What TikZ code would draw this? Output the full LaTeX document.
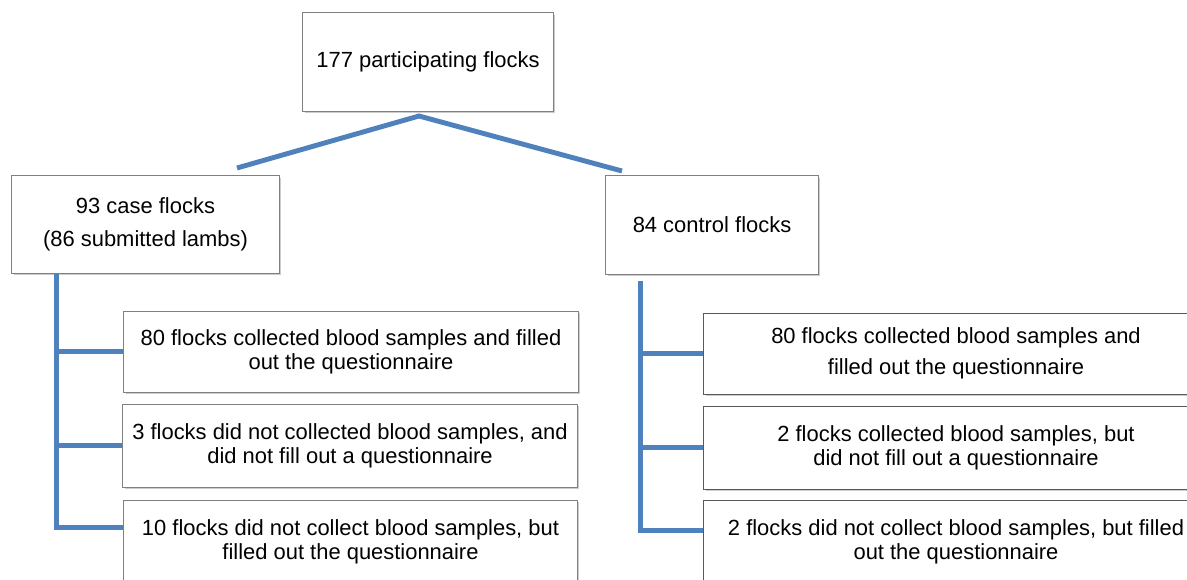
\documentclass[tikz,border=0pt]{standalone}
\usepackage{fontspec}
\setmainfont{Liberation Sans}
\usetikzlibrary{calc, shadows}
\definecolor{linkblue}{RGB}{79,129,189}
\definecolor{boxgray}{RGB}{128,128,128}
\tikzset{
  box/.style={draw=boxgray, line width=0.7pt, fill=white, align=center, inner sep=2pt,
    drop shadow={shadow xshift=1.2pt, shadow yshift=-1.6pt, opacity=0.4},
    font=\fontsize{15.6}{17}\selectfont},
  darkbox/.style={box, draw=black!65},
  link/.style={draw=linkblue, line width=3.5pt}
}
\begin{document}
\begin{tikzpicture}[x=0.025cm, y=-0.025cm]
      \clip (0,0) rectangle (1187,579);

      \node [box, minimum width=6.25cm, minimum height=2.45cm] (top) at (428,62) {177 participating flocks};
      \node [box, minimum width=6.675cm, minimum height=2.425cm, font=\fontsize{15.6}{23.5}\selectfont] (case) at (145.5,224.5) {93 case flocks\\(86 submitted lambs)};
      \node [box, minimum width=5.3cm, minimum height=2.45cm] (ctrl) at (712,225) {84 control flocks};

      \node [box, minimum width=11.35cm, minimum height=2.025cm] (ca) at (351,351.5) {80 flocks collected blood samples and filled\\out the questionnaire};
      \node [box, minimum width=11.35cm, minimum height=2.075cm] (cb) at (350,445.5) {3 flocks did not collected blood samples, and\\did not fill out a questionnaire};
      \node [box, minimum width=11.35cm, minimum height=2.075cm] (cc) at (350.5,541.5) {10 flocks did not collect blood samples, but\\filled out the questionnaire};

      \node [darkbox, minimum width=12.6cm, minimum height=2.025cm, font=\fontsize{15.6}{22.5}\selectfont] (ka) at (956,353.5) {80 flocks collected blood samples and\\filled out the questionnaire};
      \node [darkbox, minimum width=12.6cm, minimum height=2.075cm] (kb) at (956,447.5) {2 flocks collected blood samples, but\\did not fill out a questionnaire};
      \node [darkbox, minimum width=12.6cm, minimum height=2.075cm] (kc) at (956,541.5) {2 flocks did not collect blood samples, but filled\\out the questionnaire};

      \coordinate (apex) at (419,116);
      \coordinate (caseup) at (237,168);
      \coordinate (ctrlup) at (622,171);
      \draw [link] (caseup) -- (apex) -- (ctrlup);

      \coordinate (ltrunk) at ($(case.south west)+(45,0)$);
      \draw [link] (ltrunk) |- ($(cc.west)+(0,-14)$);
      \draw [link] (ltrunk |- ca.west) -- (ca.west);
      \draw [link] (ltrunk |- cb.west) -- (cb.west);

      \coordinate (rtrunk) at ($(ctrl.south west)+(35,6)$);
      \draw [link] (rtrunk) |- ($(kc.west)+(0,-11)$);
      \draw [link] (rtrunk |- ka.west) -- (ka.west);
      \draw [link] (rtrunk |- kb.west) -- (kb.west);
    \end{tikzpicture}
\end{document}
